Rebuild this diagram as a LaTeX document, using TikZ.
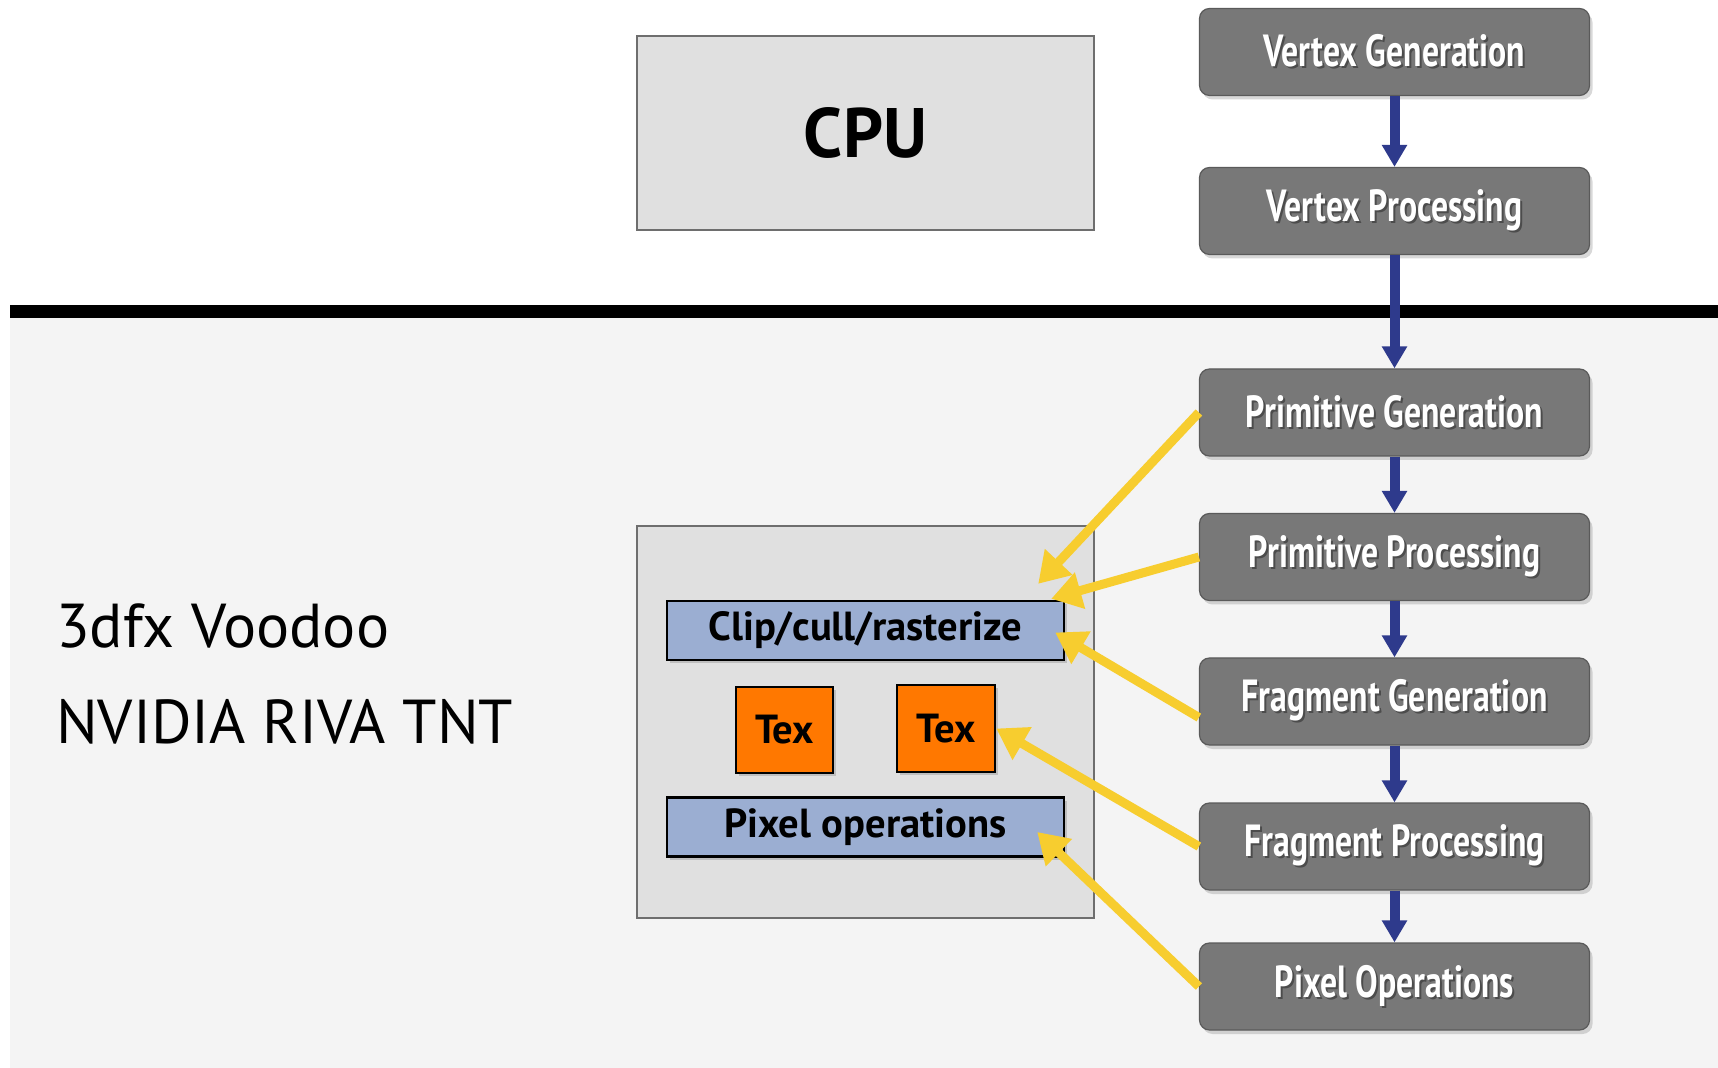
\documentclass[tikz,border=0pt]{standalone}
\usepackage{fontspec}
\setmainfont{PT Sans}
\newfontfamily\stagefont[FakeStretch=0.75]{PT Sans}
\usetikzlibrary{arrows.meta,shadows,calc}

\definecolor{stagegray}{HTML}{787878}
\definecolor{stageedge}{HTML}{5A5A5A}
\definecolor{flowblue}{HTML}{2E3A8C}
\definecolor{feedyellow}{HTML}{F7CD2F}
\definecolor{unitblue}{HTML}{9BAED2}
\definecolor{texorange}{HTML}{FF7800}
\definecolor{chipgray}{HTML}{E0E0E0}
\definecolor{chipedge}{HTML}{6E6E6E}
\definecolor{lowergray}{HTML}{F4F4F4}

% white label with a dark offset copy under it
\newcommand{\glowtext}[1]{\makebox[0pt][l]{\raisebox{-1pt}{\hspace{1pt}\textcolor{black!70}{#1}}}#1}

\begin{document}
\begin{tikzpicture}[x=0.5pt,y=-0.5pt,
  stage/.style={draw=stageedge,line width=0.6pt,fill=stagegray,rounded corners=5pt,
    minimum width=195pt,minimum height=43.5pt,text=white,
    font=\stagefont\bfseries\fontsize{22.5}{26}\selectfont,
    drop shadow={opacity=0.3,shadow xshift=1.5pt,shadow yshift=-2pt}},
  chip/.style={draw=chipedge,line width=1pt,fill=chipgray,inner sep=0pt},
  unit/.style={draw=black,line width=1.2pt,inner sep=0pt,
    font=\bfseries\fontsize{20.3}{24}\selectfont,
    drop shadow={opacity=0.35,shadow xshift=1.5pt,shadow yshift=-1.5pt}},
  flow/.style={draw=flowblue,line width=5pt,-{Triangle[width=12pt,length=11pt]}},
  feed/.style={draw=feedyellow,line width=4.5pt,-{Triangle[width=18pt,length=15pt]}},
  side/.style={anchor=base west,font=\fontsize{31}{38}\selectfont}]
\useasboundingbox (0,0) rectangle (1718,1068);
\fill[white] (0,0) rectangle (1718,1068);
\fill[lowergray] (10,318) rectangle (1718,1068);
\fill[black] (10,305) rectangle (1718,318);

% CPU and the card
\node[chip,minimum width=228.5pt,minimum height=97pt,font=\bfseries\fontsize{35}{40}\selectfont] (cpu) at (865.5,133) {CPU};
\node[chip,minimum width=228.5pt,minimum height=195.5pt] (card) at (865.5,722) {};
\node[unit,fill=unitblue,minimum width=198.5pt,minimum height=29.5pt] (clip) at (865.5,630.5) {Clip/cull/rasterize};
\node[unit,fill=texorange,minimum width=48.5pt,minimum height=43pt] (texa) at (784.5,730) {Tex};
\node[unit,fill=texorange,minimum width=49pt,minimum height=43.5pt] (texb) at (946,728.5) {Tex};
\node[unit,fill=unitblue,minimum width=198.5pt,minimum height=29.5pt] (pixop) at (865.5,827) {Pixel operations};

\node[side] (voodoo) at (49,648) {3dfx Voodoo};
\node[side] (riva) at (49,743) {NVIDIA RIVA TNT};

% pipeline
\node[stage] (vg) at (1394.5,52) {\glowtext{Vertex Generation}};
\node[stage] (vp) at (1394.5,211) {\glowtext{Vertex Processing}};
\node[stage] (pg) at (1394.5,412.5) {\glowtext{Primitive Generation}};
\node[stage] (pp) at (1394.5,557) {\glowtext{Primitive Processing}};
\node[stage] (fg) at (1394.5,701.5) {\glowtext{Fragment Generation}};
\node[stage] (fp) at (1394.5,846.5) {\glowtext{Fragment Processing}};
\node[stage] (po) at (1394.5,986.5) {\glowtext{Pixel Operations}};

\draw[flow] (vg) -- (vp);
\draw[flow] (vp) -- (pg);
\draw[flow] (pg) -- (pp);
\draw[flow] (pp) -- (fg);
\draw[flow] (fg) -- (fp);
\draw[flow] (fp) -- (po);

\draw[feed] (pg.west) -- ($(clip.north east)+(-27,-16)$);
\draw[feed] (pp.west) -- ($(clip.north east)+(-14,-1)$);
\draw[feed] ($(fg.west)+(0,16)$) -- ($(clip.east)+(-10,2)$);
\draw[feed] (fp.west) -- (texb.east);
\draw[feed] (po.west) -- ($(pixop.east)+(-28,5)$);
\end{tikzpicture}
\end{document}
